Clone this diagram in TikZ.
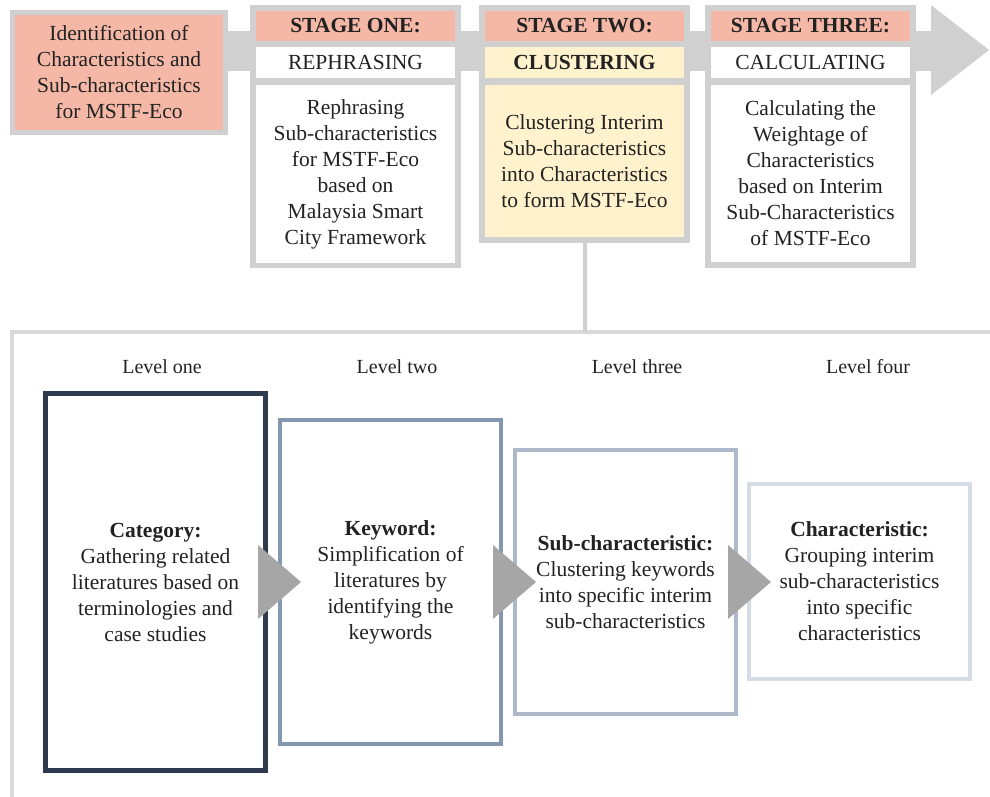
\documentclass[tikz,border=0pt]{standalone}
\usepackage{fontspec}
\setmainfont{Liberation Serif}
\usetikzlibrary{calc}

\definecolor{salmon}{HTML}{F5B8A7}
\definecolor{paleyellow}{HTML}{FFF2CC}
\definecolor{bandgray}{HTML}{D0D0D0}
\definecolor{framegray}{HTML}{D9D9D9}
\definecolor{trigray}{HTML}{A6A6A6}
\definecolor{navy}{HTML}{2E3B4E}
\definecolor{steelone}{HTML}{8497B0}
\definecolor{steeltwo}{HTML}{ADB9CA}
\definecolor{steelthree}{HTML}{D6DCE5}
\definecolor{ink}{HTML}{222222}

\newcommand\txt{\fontsize{21.5}{26}\selectfont}

\tikzset{
  stagepart/.style={inner sep=0pt, minimum width=199pt, align=center, text=ink},
  stagehead/.style={stagepart, fill=salmon, minimum height=30pt, font=\txt\bfseries},
  stagesub/.style={stagepart, fill=white, minimum height=31pt, font=\txt},
  stagebody/.style={stagepart, fill=white, font=\txt},
  idbox/.style={draw=bandgray, line width=5pt, fill=salmon, minimum width=213pt,
    minimum height=120pt, inner sep=0pt, align=center, text=ink, font=\txt},
  levellabel/.style={text=ink, font=\fontsize{20}{24}\selectfont},
  levelbox/.style={line width=4pt, minimum width=221pt, inner sep=0pt, align=center,
    text=ink, font=\txt},
  tri/.style={fill=trigray},
  linkline/.style={draw=bandgray, line width=4pt}
}

\begin{document}
\begin{tikzpicture}[x=1pt,y=-1pt]
  \useasboundingbox (0,0) rectangle (990,797);

  % gray process arrow
  \fill[bandgray] (200,31) rectangle (935,71);
  \fill[bandgray] (931,5) -- (989,50) -- (931,95) -- cycle;

  % start box
  \node[idbox] (ident) at (119,72.5) {Identification of\\Characteristics and\\Sub-characteristics\\for MSTF-Eco};

  % stage one
  \fill[bandgray] (250,5) rectangle (461,268);
  \node[stagehead] (s1head) at (355.5,26)   {STAGE ONE:};
  \node[stagesub]  (s1sub)  at (355.5,62.5) {REPHRASING};
  \node[stagebody, minimum height=178pt] (s1body) at (355.5,174)
    {Rephrasing\\Sub-characteristics\\for MSTF-Eco\\based on\\Malaysia Smart\\City Framework};

  % stage two
  \fill[bandgray] (479,5) rectangle (690,243);
  \node[stagehead] (s2head) at (584.5,26)   {STAGE TWO:};
  \node[stagesub, fill=paleyellow, font=\txt\bfseries] (s2sub) at (584.5,62.5) {CLUSTERING};
  \node[stagebody, fill=paleyellow, minimum height=152pt] (s2body) at (584.5,161)
    {Clustering Interim\\Sub-characteristics\\into Characteristics\\to form MSTF-Eco};

  % stage three
  \fill[bandgray] (705,5) rectangle (916,268);
  \node[stagehead] (s3head) at (810.5,26)   {STAGE THREE:};
  \node[stagesub]  (s3sub)  at (810.5,62.5) {CALCULATING};
  \node[stagebody, minimum height=177pt] (s3body) at (810.5,173.5)
    {Calculating the\\Weightage of\\Characteristics\\based on Interim\\Sub-Characteristics\\of MSTF-Eco};

  % detail panel of stage two
  \draw[framegray, line width=4pt] (12,800) |- (994,332);
  \coordinate (hub) at (584.5,332);
  \draw[linkline] (s2body.south) -- (hub);

  % levels
  \node[levellabel] (lv1) at (162,367) {Level one};
  \node[levellabel] (lv2) at (397,367) {Level two};
  \node[levellabel] (lv3) at (637,367) {Level three};
  \node[levellabel] (lv4) at (868,367) {Level four};

  \node[levelbox, draw=navy, line width=5pt, minimum width=220pt, minimum height=377pt] (cat) at (155.5,582)
    {\textbf{Category:}\\Gathering related\\literatures based on\\terminologies and\\case studies};
  \node[levelbox, draw=steelone, minimum height=324pt] (kw) at (390.5,582)
    {\textbf{Keyword:}\\Simplification of\\literatures by\\identifying the\\keywords};
  \node[levelbox, draw=steeltwo, minimum height=264pt] (subch) at (625.5,582)
    {\textbf{Sub-characteristic:}\\Clustering keywords\\into specific interim\\sub-characteristics};
  \node[levelbox, draw=steelthree, minimum height=195pt] (ch) at (859.5,581.5)
    {\textbf{Characteristic:}\\Grouping interim\\sub-characteristics\\into specific\\characteristics};

  % gray triangles between levels
  \foreach \b in {cat,kw,subch}
    \fill[tri] ($(\b.east)+(-10,-37)$) -- ($(\b.east)+(33,0)$) -- ($(\b.east)+(-10,37)$) -- cycle;
\end{tikzpicture}
\end{document}
